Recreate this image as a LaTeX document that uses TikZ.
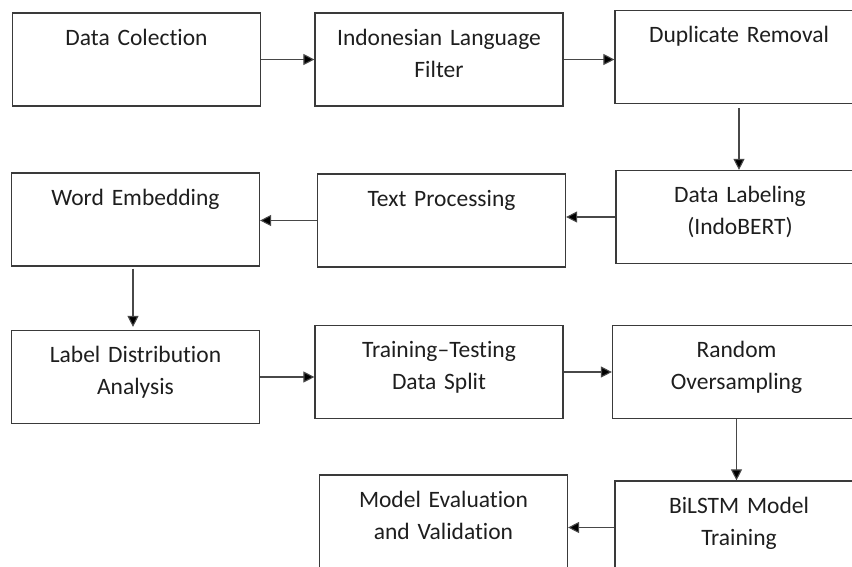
\documentclass[tikz,border=0pt]{standalone}
\usepackage{fontspec}
\setmainfont{Carlito}[Ligatures=NoCommon]
\usepackage{tikz}
\usetikzlibrary{arrows.meta,positioning,calc}
\definecolor{boxline}{HTML}{3A3A3A}
\definecolor{arrline}{HTML}{484848}
\definecolor{txt}{HTML}{1E1E1E}
\tikzset{
  stepbox/.style={rectangle, draw=boxline, line width=1.2pt, text=txt,
                  align=center, text width=240pt, inner xsep=4pt, inner ysep=4pt,
                  text height=28pt, text depth=57pt,
                  font=\fontsize{23.5}{32}\selectfont},
  arr/.style={-{Triangle[length=11pt, width=11pt, fill=black]}, line width=1.1pt, draw=arrline},
}
\begin{document}
\begin{tikzpicture}[x=1pt, y=-1pt]
        \useasboundingbox (0,0) rectangle (852,566);
        \clip (0,0) rectangle (852,566);
        % first row
        \node[stepbox] (dc)  at (136.5,59.5) {Data Colection};
        \node[stepbox] (ilf) at (439,59.5)   {Indonesian Language\\Filter};
        \node[stepbox] (dr)  at (739,57)     {Duplicate Removal};
        % second row
        \node[stepbox] (dl)  at (740,217)    {Data Labeling\\(IndoBERT)};
        \node[stepbox] (tp)  at (441.5,220.5) {Text Processing};
        \node[stepbox] (we)  at (135.5,219.5) {Word Embedding};
        % third row
        \node[stepbox] (lda) at (135.5,377)  {Label Distribution\\Analysis};
        \node[stepbox] (tts) at (439,372)    {Training–Testing\\Data Split};
        \node[stepbox] (ro)  at (736.5,372)  {Random\\Oversampling};
        % last row
        \node[stepbox] (bt)  at (739,527.5)  {BiLSTM Model\\Training};
        \node[stepbox] (me)  at (443.5,521.5) {Model Evaluation\\and Validation};
        \draw[arr] (dc.east) -- (dc.east -| ilf.west);
        \draw[arr] (ilf.east) -- (ilf.east -| dr.west);
        \draw[arr, shorten <=4pt] (dr.south) -- (dr.south |- dl.north);
        \draw[arr] (dl.west) -- (dl.west -| tp.east);
        \draw[arr] (tp.west) -- (tp.west -| we.east);
        \draw[arr, shorten <=2pt, shorten >=3pt] (we.south -| 133,0) -- (lda.north -| 133,0);
        \draw[arr] (lda.east) -- (lda.east -| tts.west);
        \draw[arr] (tts.east) -- (tts.east -| ro.west);
        \draw[arr] (ro.south) -- (ro.south |- bt.north);
        \draw[arr] (bt.west) -- (bt.west -| me.east);
      \end{tikzpicture}
\end{document}
